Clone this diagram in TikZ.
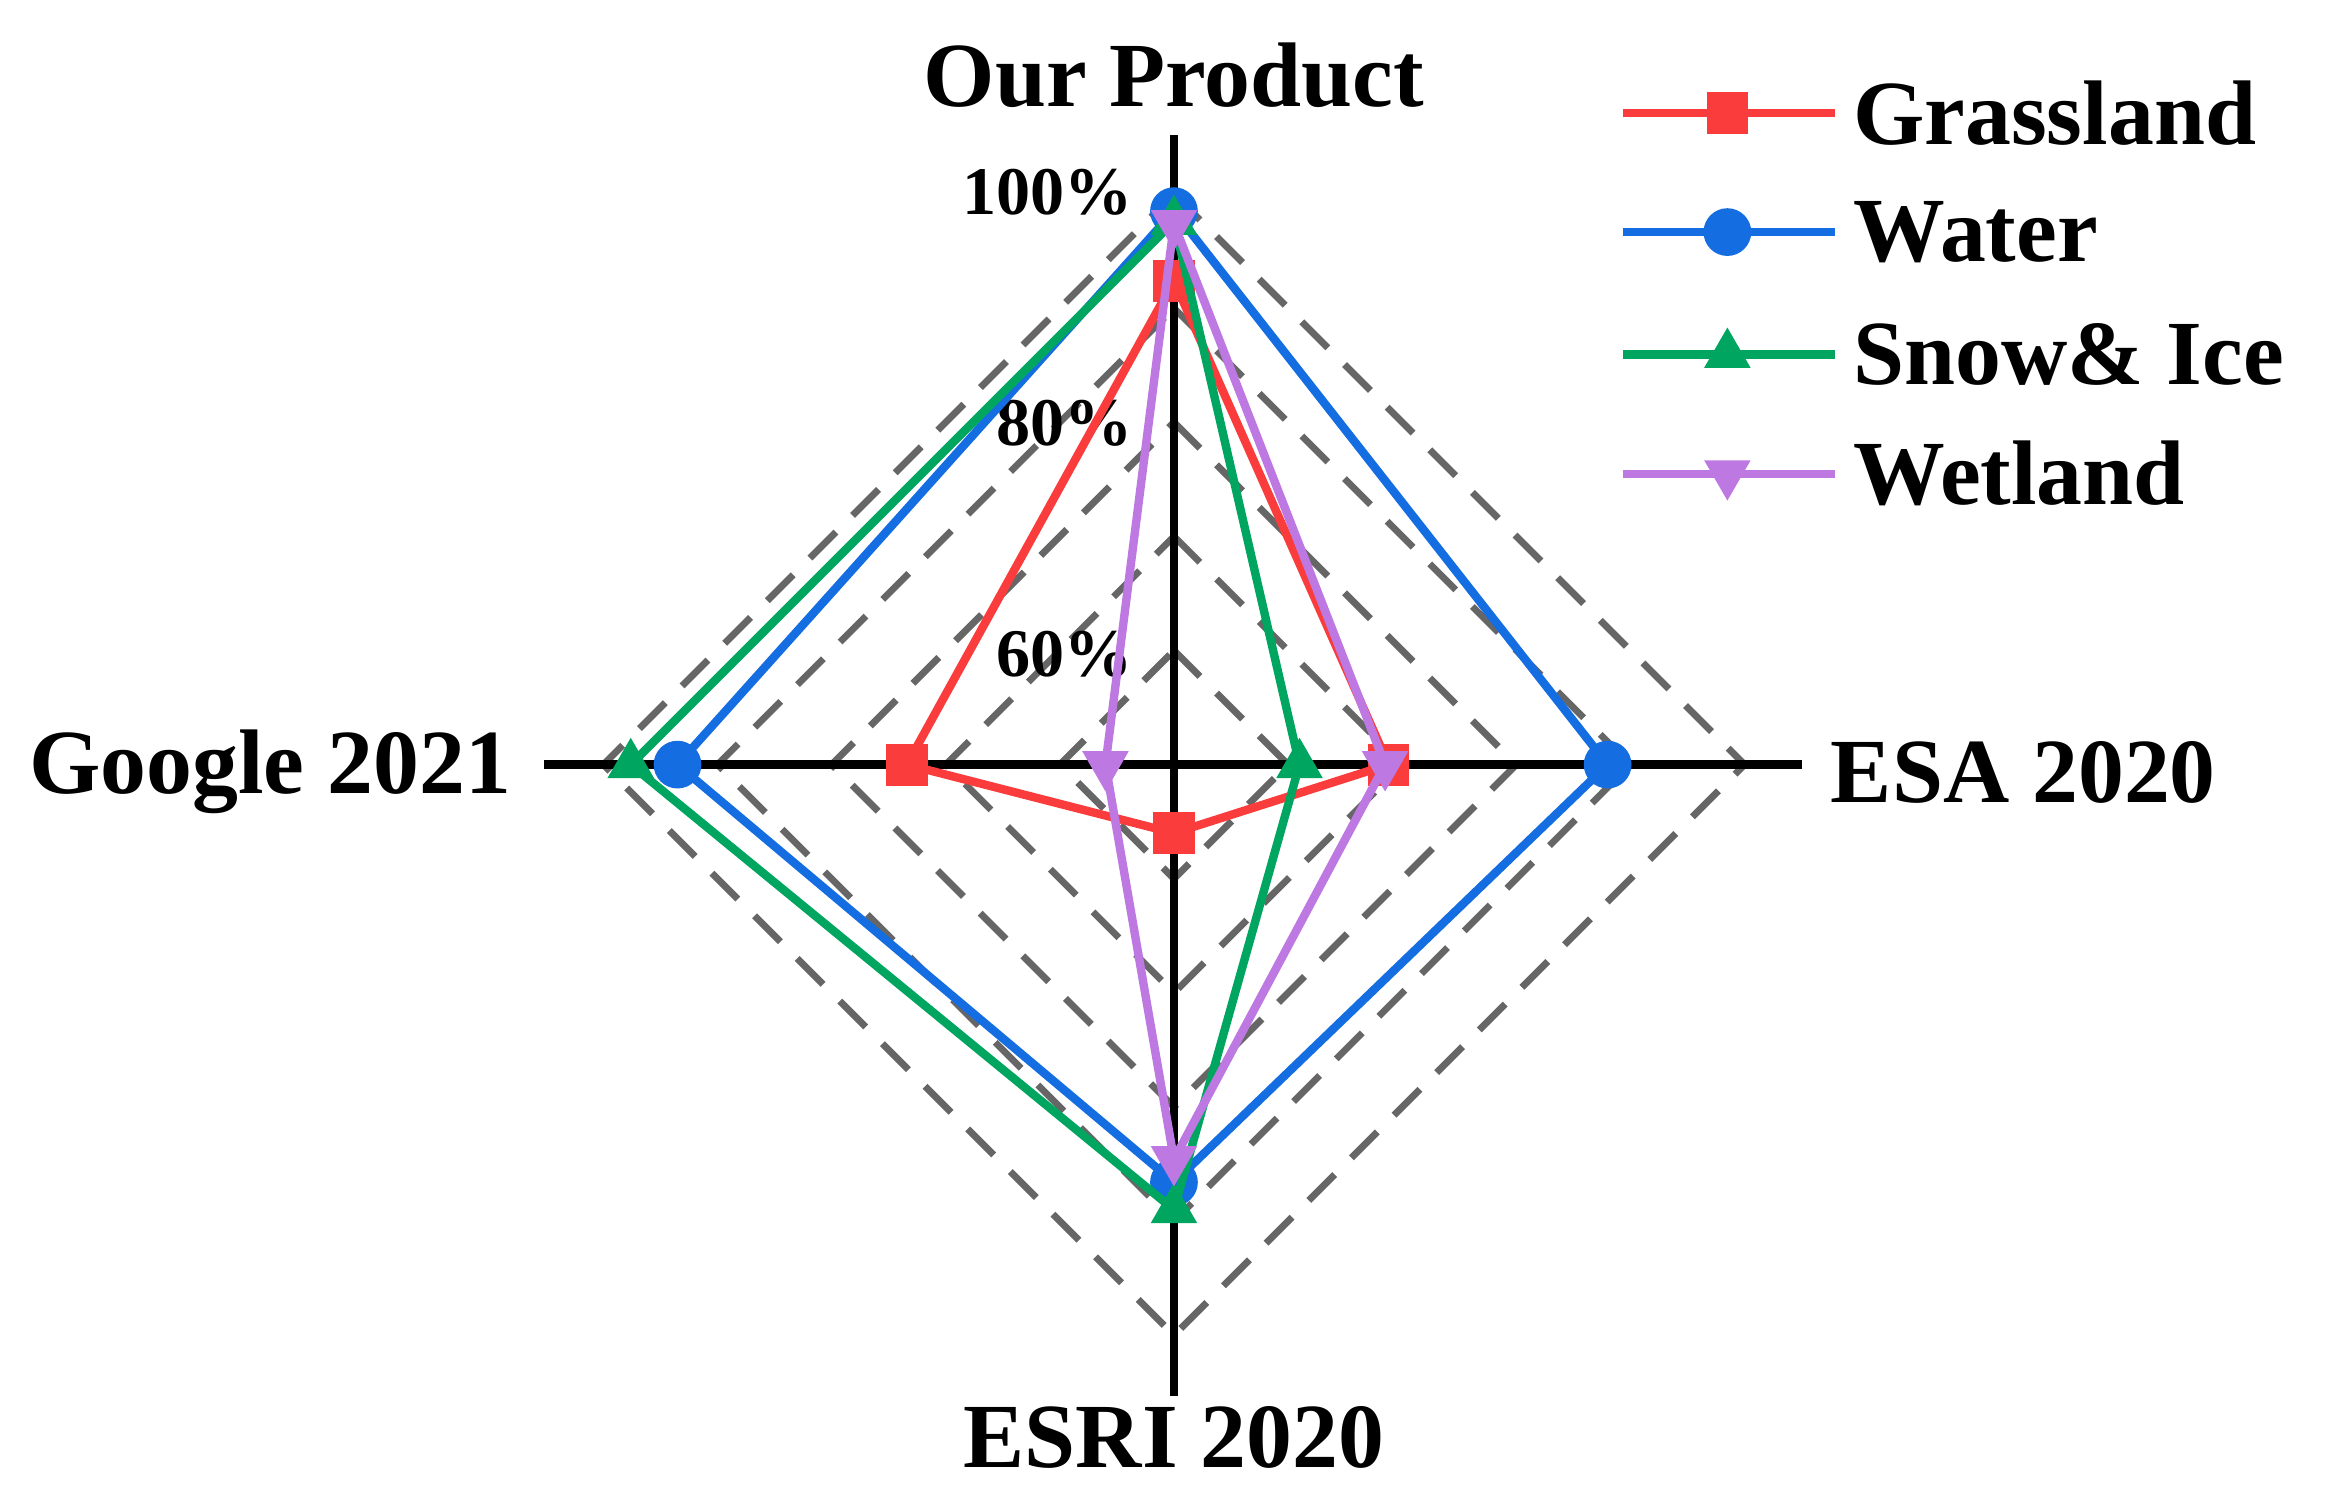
\documentclass[tikz,border=0pt]{standalone}
\usepackage{fontspec}
\setmainfont{Liberation Serif}
\usetikzlibrary{shapes.geometric,calc}
\definecolor{cg}{RGB}{250,60,60}
\definecolor{cw}{RGB}{20,110,225}
\definecolor{cs}{RGB}{0,165,95}
\definecolor{cwe}{RGB}{190,120,225}
\tikzset{
 ser/.style={line width=1.6pt,line join=round},
 grid/.style={gray!80!black,line width=1.3pt,dash pattern=on 7pt off 4.5pt},
 msq/.style={fill=cg,draw=none,minimum size=0.28cm,inner sep=0pt,rectangle},
 mci/.style={fill=cw,draw=none,minimum size=0.32cm,inner sep=0pt,circle},
 mtu/.style={fill=cs,draw=none,minimum size=0.36cm,inner sep=0pt,regular polygon,regular polygon sides=3},
 mtd/.style={fill=cwe,draw=none,minimum size=0.36cm,inner sep=0pt,regular polygon,regular polygon sides=3,shape border rotate=180},
 ax/.style={font=\fontsize{17.5}{20}\selectfont\bfseries},
 tk/.style={font=\fontsize{13}{15}\selectfont\bfseries},
}
\newcommand\series[6]{%
 \pgfmathsetmacro\a{(#1-50)*0.0765}\pgfmathsetmacro\b{(#2-50)*0.0765}%
 \pgfmathsetmacro\c{(#3-50)*0.0765}\pgfmathsetmacro\d{(#4-50)*0.0765}%
 \draw[ser,#5] ($(O)+(0,\a)$) node[#6]{} -- ($(O)+(\b,0)$) node[#6]{} -- ($(O)+(0,-\c)$) node[#6]{} -- ($(O)+(-\d,0)$) node[#6]{} -- cycle;}
\begin{document}
\begin{tikzpicture}
\useasboundingbox (0,0) rectangle (15.6,10.056);
\coordinate (O) at (7.87,4.93);
\foreach \v in {60,70,80,90,100}{
 \pgfmathsetmacro\r{(\v-50)*0.0765}
 \draw[grid] ($(O)+(0,\r)$) -- ($(O)+(\r,0)$) -- ($(O)+(0,-\r)$) -- ($(O)+(-\r,0)$) -- cycle;
}
\draw[line width=1.6pt] (3.65,4.93) -- (12.08,4.93);
\draw[line width=1.6pt] (7.87,0.7) -- (7.87,9.15);
\node[ax] (t) at (7.87,9.55) {Our Product};
\node[ax,anchor=east] (l) at (3.55,4.88) {Google 2021};
\node[ax,anchor=west] (r) at (12.15,4.88) {ESA 2020};
\node[ax] (b) at (7.87,0.42) {ESRI 2020};
\node[tk,anchor=east] (k1) at (7.72,8.77) {100\%};
\node[tk,anchor=east] (k2) at (7.72,7.22) {80\%};
\node[tk,anchor=east] (k3) at (7.72,5.67) {60\%};
\series{92.4}{68.8}{56}{73.4}{cg}{msq}
\series{98.5}{88}{86.6}{93.5}{cw}{mci}
\series{97.6}{61}{89}{97.6}{cs}{mtu}
\series{97.4}{68.5}{84.6}{56}{cwe}{mtd}
\foreach \y/\c/\m/\t in {9.3/cg/msq/Grassland,8.5/cw/mci/Water,7.68/cs/mtu/Snow\& Ice,6.88/cwe/mtd/Wetland}{
 \draw[ser,\c] (10.88,\y) -- (12.3,\y);
 \node[\m] at (11.58,\y) {};
 \node[ax,anchor=west] at (12.3,\y) {\t};
}
\end{tikzpicture}
\end{document}
